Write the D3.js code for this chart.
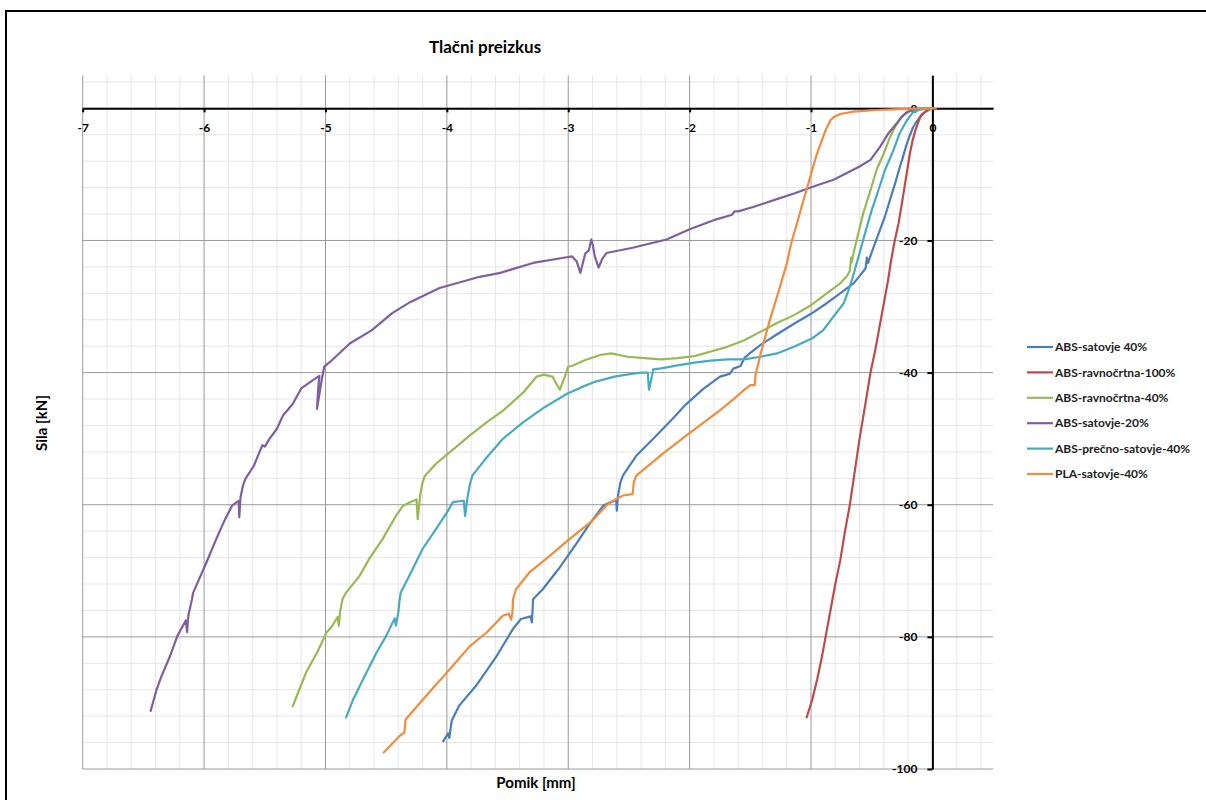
<!DOCTYPE html>
<html>
<head>
<meta charset="utf-8">
<script src="https://cdn.jsdelivr.net/npm/d3@7"></script>
<style>
  body { margin: 0; background: #fff; }
  svg text { font-family: Lato, "Open Sans", sans-serif; }
</style>
</head>
<body>
<div id="chart"></div>
<script>
// series names, in legend order
const seriesNames = ["ABS-satovje 40%", "ABS-ravnočrtna-100%", "ABS-ravnočrtna-40%",
  "ABS-satovje-20%", "ABS-prečno-satovje-40%", "PLA-satovje-40%"];
const seriesColors = ["#4A7EBB", "#BE4B48", "#98B954", "#7D60A0", "#46AAC5", "#F08C3E"];

// [pomik mm, sila kN]
const absSatovje40 = [[0,0],[-0.02,-0.1],[-0.05,-0.4],[-0.09,-1],[-0.13,-2],[-0.16,-2.9],[-0.19,-4.3],
  [-0.215,-5.6],[-0.24,-7.2],[-0.27,-9],[-0.3,-10.9],[-0.33,-12.7],[-0.36,-14.5],[-0.39,-16.3],[-0.42,-17.8],
  [-0.46,-19.8],[-0.5,-21.8],[-0.53,-23.4],[-0.54,-22.6],[-0.55,-24.2],[-0.6,-25.4],[-0.65,-26.5],[-0.76,-28],
  [-0.87,-29.5],[-1.0,-31.1],[-1.14,-32.6],[-1.28,-34.2],[-1.415,-35.8],[-1.5,-37],[-1.55,-37.8],[-1.58,-39],
  [-1.64,-39.4],[-1.67,-40.2],[-1.75,-40.6],[-1.89,-42.5],[-2.03,-44.8],[-2.14,-47],[-2.3,-50],[-2.44,-52.6],
  [-2.55,-55.6],[-2.57,-56.6],[-2.59,-58.6],[-2.6,-60.9],[-2.605,-59.3],[-2.65,-59.6],[-2.71,-60.1],
  [-2.82,-62.8],[-2.93,-65.8],[-3.07,-69.5],[-3.21,-72.8],[-3.29,-74.3],[-3.295,-76.3],[-3.3,-77.8],
  [-3.31,-76.9],[-3.39,-77.3],[-3.455,-78.8],[-3.59,-82.9],[-3.76,-87.4],[-3.9,-90.45],[-3.96,-92.7],
  [-3.98,-95.3],[-3.99,-94.6],[-4.03,-95.8]];

const absRavno100 = [[0,0],[-0.03,-0.2],[-0.07,-0.7],[-0.1,-1.3],[-0.14,-3.3],[-0.165,-5],[-0.185,-6.8],
  [-0.2,-8.5],[-0.22,-10.8],[-0.255,-14.8],[-0.28,-17.5],[-0.31,-20],[-0.34,-23],[-0.365,-26],[-0.4,-29.5],
  [-0.44,-33.5],[-0.47,-36.5],[-0.51,-40],[-0.55,-44.5],[-0.6,-50],[-0.64,-55],[-0.68,-60],[-0.72,-64],
  [-0.76,-68.5],[-0.8,-72],[-0.84,-76],[-0.88,-80],[-0.91,-83],[-0.95,-86.5],[-0.99,-89.5],[-1.036,-92.2]];

const absRavno40 = [[0,0],[-0.08,-0.05],[-0.14,-0.15],[-0.186,-0.4],[-0.24,-1.1],[-0.28,-2],[-0.31,-2.9],
  [-0.35,-4.4],[-0.4,-6.8],[-0.46,-9.3],[-0.51,-12.4],[-0.57,-15.9],[-0.61,-18.9],[-0.65,-21.9],[-0.664,-23.3],
  [-0.67,-22.6],[-0.68,-24.6],[-0.7,-25.3],[-0.76,-26.5],[-0.87,-28],[-1.0,-29.8],[-1.14,-31.3],[-1.28,-32.5],
  [-1.415,-33.8],[-1.55,-35.1],[-1.69,-36.1],[-1.825,-36.8],[-1.96,-37.5],[-2.1,-37.8],[-2.235,-38],
  [-2.37,-37.8],[-2.51,-37.6],[-2.645,-37.1],[-2.73,-37.3],[-2.86,-38.1],[-2.97,-39],[-3.0,-39.1],
  [-3.02,-40.2],[-3.07,-42.6],[-3.13,-40.6],[-3.2,-40.3],[-3.26,-40.6],[-3.37,-43],[-3.54,-45.8],[-3.67,-47.5],
  [-3.81,-49.5],[-3.98,-52.1],[-4.09,-53.8],[-4.18,-55.6],[-4.2,-56.6],[-4.22,-58.6],[-4.24,-62.2],
  [-4.25,-59.2],[-4.3,-59.6],[-4.36,-60.15],[-4.42,-61.7],[-4.53,-65.2],[-4.64,-68.2],[-4.72,-70.8],
  [-4.83,-73.3],[-4.86,-74.3],[-4.88,-76.3],[-4.89,-78.3],[-4.9,-77],[-4.95,-78.5],[-4.99,-79.3],
  [-5.07,-82.4],[-5.16,-85.4],[-5.27,-90.5]];

const absSatovje20 = [[0,0],[-0.08,-0.05],[-0.16,-0.2],[-0.213,-0.6],[-0.26,-1.4],[-0.295,-2.3],[-0.363,-3.8],
  [-0.43,-5.8],[-0.51,-7.8],[-0.6,-8.8],[-0.705,-9.8],[-0.814,-10.8],[-0.992,-11.9],[-1.14,-12.9],
  [-1.306,-13.9],[-1.47,-14.9],[-1.6,-15.6],[-1.63,-15.6],[-1.65,-16.1],[-1.78,-16.8],[-2.0,-18.3],
  [-2.19,-19.85],[-2.47,-21.1],[-2.685,-21.9],[-2.72,-22.8],[-2.75,-24.1],[-2.78,-22.5],[-2.8,-20.5],
  [-2.81,-19.85],[-2.83,-21.5],[-2.86,-22],[-2.9,-24.9],[-2.93,-23.2],[-2.97,-22.4],[-3.0,-22.5],
  [-3.29,-23.4],[-3.56,-24.9],[-3.73,-25.5],[-4.06,-27.2],[-4.3,-29.3],[-4.45,-31],[-4.62,-33.6],
  [-4.8,-35.6],[-4.96,-38.35],[-5.01,-39.1],[-5.03,-41],[-5.07,-45.5],[-5.06,-42.5],[-5.05,-40.5],
  [-5.1,-41.1],[-5.2,-42.4],[-5.27,-44.75],[-5.35,-46.5],[-5.4,-48.5],[-5.46,-50],[-5.5,-51.2],[-5.52,-51],
  [-5.55,-52.3],[-5.59,-54.1],[-5.66,-56.1],[-5.68,-57.1],[-5.7,-58.9],[-5.71,-61.9],[-5.715,-59.4],
  [-5.77,-60.15],[-5.84,-62.7],[-5.9,-65.2],[-5.98,-68.7],[-6.03,-70.8],[-6.09,-73.3],[-6.1,-74.3],
  [-6.13,-76.8],[-6.14,-79.3],[-6.15,-77.5],[-6.22,-79.85],[-6.28,-82.9],[-6.35,-85.9],[-6.39,-87.9],
  [-6.44,-91.2]];

const absPrecno40 = [[0,0],[-0.06,-0.1],[-0.104,-0.2],[-0.16,-0.6],[-0.21,-1.8],[-0.27,-3.8],[-0.32,-6.3],
  [-0.39,-9.3],[-0.445,-12.4],[-0.5,-15.4],[-0.555,-18.9],[-0.6,-21.9],[-0.64,-24.5],[-0.68,-27],
  [-0.73,-29.5],[-0.814,-31.5],[-0.9,-33.6],[-0.99,-34.8],[-1.14,-36.1],[-1.28,-37.1],[-1.415,-37.6],
  [-1.55,-38],[-1.69,-38],[-1.825,-38.2],[-1.96,-38.5],[-2.1,-38.9],[-2.235,-39.35],[-2.3,-39.5],
  [-2.31,-40.5],[-2.335,-42.6],[-2.345,-40],[-2.4,-40],[-2.48,-40.2],[-2.62,-40.6],[-2.78,-41.4],
  [-2.89,-42.2],[-3.01,-43.2],[-3.2,-45.3],[-3.37,-47.5],[-3.54,-50.05],[-3.67,-52.8],[-3.79,-55.6],
  [-3.81,-56.9],[-3.83,-58.9],[-3.85,-61.7],[-3.86,-59.4],[-3.95,-59.6],[-4.0,-61.2],[-4.09,-63.7],
  [-4.2,-66.7],[-4.31,-70.8],[-4.38,-73.3],[-4.39,-74.5],[-4.4,-76.3],[-4.42,-78.3],[-4.43,-77.2],
  [-4.5,-79.85],[-4.58,-82.4],[-4.69,-86.4],[-4.77,-89.4],[-4.83,-92.2]];

const plaSatovje40 = [[0.03,0],[-0.1,-0.02],[-0.32,-0.15],[-0.46,-0.25],[-0.65,-0.5],[-0.76,-0.86],
  [-0.81,-1.3],[-0.84,-1.8],[-0.88,-3.3],[-0.91,-4.8],[-0.95,-6.8],[-0.99,-9.3],[-1.03,-11.9],[-1.07,-14.4],
  [-1.115,-17.4],[-1.16,-20.2],[-1.2,-23.5],[-1.24,-26],[-1.28,-28.5],[-1.33,-31.5],[-1.37,-34.1],
  [-1.415,-37.1],[-1.44,-39.1],[-1.456,-40.2],[-1.464,-41.9],[-1.5,-41.9],[-1.55,-42.6],[-1.63,-43.9],
  [-1.77,-46],[-1.99,-49],[-2.21,-52.1],[-2.44,-55.6],[-2.46,-56.6],[-2.47,-58.4],[-2.55,-58.6],
  [-2.6,-59.1],[-2.68,-60],[-2.8,-62.4],[-2.99,-65.2],[-3.15,-67.7],[-3.32,-70.25],[-3.43,-72.8],
  [-3.455,-74.3],[-3.46,-76.3],[-3.47,-77.4],[-3.49,-76.5],[-3.54,-76.8],[-3.67,-79.3],[-3.81,-81.4],
  [-4.0,-85.4],[-4.17,-88.9],[-4.34,-92.5],[-4.35,-94.5],[-4.39,-95],[-4.52,-97.5]];

const seriesData = [absSatovje40, absRavno100, absRavno40, absSatovje20, absPrecno40, plaSatovje40];

const xTicks = [-7, -6, -5, -4, -3, -2, -1, 0];
const yTicks = [0, -20, -40, -60, -80, -100];

const width = 1206, height = 800;
const svg = d3.select("#chart").append("svg")
  .attr("width", width).attr("height", height);

// outer chart border
svg.append("rect")
  .attr("x", 6).attr("y", 11).attr("width", 1210).attr("height", 800)
  .attr("fill", "#fff").attr("stroke", "#000").attr("stroke-width", 2);

const x = d3.scaleLinear().domain([-7, 0.5]).range([82.7, 993.1]);
const y = d3.scaleLinear().domain([5, -100]).range([75.3, 769]);

// minor grid
const grid = svg.append("g");
grid.append("g").selectAll("line")
  .data(d3.range(-68, 5).map(d => d / 10).filter(d => Math.round(d * 10) % 2 === 0 && Math.round(d * 10) % 10 !== 0))
  .join("line")
  .attr("x1", d => x(d)).attr("x2", d => x(d))
  .attr("y1", y(5)).attr("y2", y(-100))
  .attr("stroke", "#e6e6e6");
grid.append("g").selectAll("line")
  .data(d3.range(-96, 5, 4).filter(d => d % 20 !== 0))
  .join("line")
  .attr("x1", x(-7)).attr("x2", x(0.5))
  .attr("y1", d => y(d)).attr("y2", d => y(d))
  .attr("stroke", "#e6e6e6");

// major grid
grid.append("g").selectAll("line")
  .data(xTicks)
  .join("line")
  .attr("x1", d => x(d)).attr("x2", d => x(d))
  .attr("y1", y(5)).attr("y2", y(-100))
  .attr("stroke", "#9a9a9a");
grid.append("g").selectAll("line")
  .data(yTicks)
  .join("line")
  .attr("x1", x(-7)).attr("x2", x(0.5))
  .attr("y1", d => y(d)).attr("y2", d => y(d))
  .attr("stroke", "#9a9a9a");

// axes through the origin
const xAxis = svg.append("g")
  .attr("transform", `translate(0,${y(0)})`)
  .call(d3.axisBottom(x).tickValues(xTicks).tickFormat(d => String(d))
    .tickSize(4).tickSizeOuter(0).tickPadding(11));
const yAxis = svg.append("g")
  .attr("transform", `translate(${x(0)},0)`)
  .call(d3.axisLeft(y).tickValues(yTicks).tickFormat(d => String(d))
    .tickSize(5).tickSizeOuter(0).tickPadding(10));

[xAxis, yAxis].forEach(a => {
  a.select(".domain").attr("stroke", "#000").attr("stroke-width", 2);
  a.selectAll(".tick line").attr("stroke", "#000").attr("stroke-width", 2);
  a.selectAll(".tick text")
    .attr("font-family", "Lato, sans-serif")
    .attr("font-size", 12).attr("font-weight", "bold").attr("fill", "#000");
});

// series
const line = d3.line().x(d => x(d[0])).y(d => y(d[1]));
svg.append("g")
  .attr("fill", "none")
  .attr("stroke-width", 2.2)
  .attr("stroke-linejoin", "round")
  .attr("stroke-linecap", "round")
  .selectAll("path")
  .data(seriesData)
  .join("path")
  .attr("stroke", (d, i) => seriesColors[i])
  .attr("d", line);

// title and axis titles
svg.append("text")
  .attr("x", 485).attr("y", 53)
  .attr("text-anchor", "middle")
  .attr("font-size", 17).attr("font-weight", "bold")
  .text("Tlačni preizkus");
svg.append("text")
  .attr("x", 536).attr("y", 788)
  .attr("text-anchor", "middle")
  .attr("font-size", 15).attr("font-weight", "bold")
  .text("Pomik [mm]");
svg.append("text")
  .attr("transform", "translate(47,423) rotate(-90)")
  .attr("text-anchor", "middle")
  .attr("font-size", 15).attr("font-weight", "bold")
  .text("Sila [kN]");

// legend
const legend = svg.append("g")
  .selectAll("g")
  .data(seriesNames)
  .join("g")
  .attr("transform", (d, i) => `translate(1027,${347 + i * 25.4})`);
legend.append("line")
  .attr("x1", 0).attr("x2", 26)
  .attr("stroke", (d, i) => seriesColors[i])
  .attr("stroke-width", 2.2);
legend.append("text")
  .attr("x", 28).attr("dy", "0.35em")
  .attr("font-size", 12).attr("font-weight", "bold").attr("fill", "#222")
  .text(d => d);
</script>
</body>
</html>
